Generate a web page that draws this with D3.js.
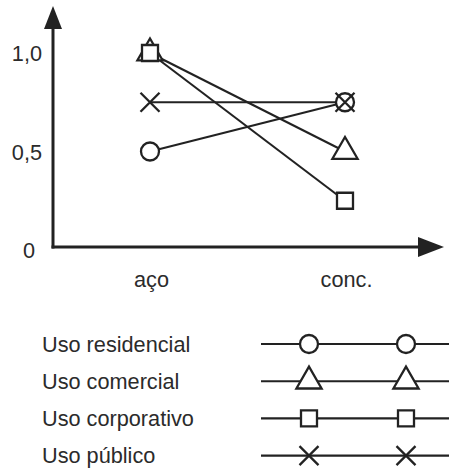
<!DOCTYPE html>
<html><head><meta charset="utf-8">
<script src="https://cdn.jsdelivr.net/npm/d3@7"></script>
<style>html,body{margin:0;padding:0;background:#fff}svg{display:block}text{font-family:"Liberation Sans",Arial,sans-serif;fill:#2b2b2b}</style>
</head><body><svg id="c" width="449" height="471"></svg>
<script>
const categories = ["aço", "conc."];
const seriesNames = ["Uso residencial", "Uso comercial", "Uso corporativo", "Uso público"];
const seriesSymbols = ["circle", "triangle", "square", "times"];
const residencial = [0.5, 0.75];
const comercial = [1.0, 0.5];
const corporativo = [1.0, 0.25];
const publico = [0.75, 0.75];
const yTicks = [0, 0.5, 1.0];
const yTickLabels = ["0", "0,5", "1,0"];

const seriesValues = [residencial, comercial, corporativo, publico];
const ink = "#222";
const txt = "#2b2b2b";
const fs = 21.7;
const svg = d3.select("#c");
const x = d3.scalePoint().domain(categories).range([150, 345]);
const y = d3.scaleLinear().domain([0, 1]).range([250, 53]);

function symPath(kind) {
  if (kind === "circle") return d3.symbol(d3.symbolCircle, Math.PI * 81)();
  if (kind === "triangle") return d3.symbol(d3.symbolTriangle, 275)();
  if (kind === "square") return d3.symbol(d3.symbolSquare, 256)();
  return "M-9.5,-9.5L9.5,9.5M-9.5,9.5L9.5,-9.5";
}
function drawMarker(g, kind, cx, cy) {
  g.append("path").attr("d", symPath(kind))
    .attr("transform", `translate(${cx},${cy})`)
    .attr("fill", kind === "times" ? "none" : "#fff")
    .attr("stroke", ink).attr("stroke-width", 2.3);
}

// axes
const axY = 53, axX = 247;
svg.append("line").attr("x1", axY).attr("x2", axY).attr("y1", 24).attr("y2", axX + 1.5)
  .attr("stroke", ink).attr("stroke-width", 3);
svg.append("line").attr("x1", axY - 1.5).attr("x2", 422).attr("y1", axX).attr("y2", axX)
  .attr("stroke", ink).attr("stroke-width", 3);
svg.append("path").attr("d", `M${axY},6L${axY - 9},29L${axY + 9},29Z`).attr("fill", ink);
svg.append("path").attr("d", `M444,${axX}L418,${axX - 10}L418,${axX + 10}Z`).attr("fill", ink);

// y tick labels
const yAxis = d3.axisLeft(y).tickValues(yTicks).tickSize(0).tickPadding(0)
  .tickFormat((d, i) => yTickLabels[i]);
const gy = svg.append("g").attr("transform", "translate(42,0)").call(yAxis);
gy.select(".domain").remove();
gy.selectAll("text").attr("font-size", fs).attr("fill", txt)
  .attr("font-family", '"Liberation Sans",Arial,sans-serif')
  .attr("dy", "0.35em")
  .attr("dx", d => d === 0 ? -7 : 0);

// x labels
const xAxis = d3.axisBottom(x).tickSize(0).tickPadding(0);
const gx = svg.append("g").attr("transform", "translate(1,272)").call(xAxis);
gx.select(".domain").remove();
gx.selectAll("text").attr("font-size", fs).attr("fill", txt)
  .attr("font-family", '"Liberation Sans",Arial,sans-serif');

// series lines
const line = d3.line().x((d, i) => x(categories[i])).y(d => y(d));
seriesValues.forEach(vals => {
  svg.append("path").attr("d", line(vals)).attr("fill", "none")
    .attr("stroke", ink).attr("stroke-width", 2.1);
});
// markers
const gm = svg.append("g");
seriesValues.forEach((vals, s) => {
  vals.forEach((v, i) => drawMarker(gm, seriesSymbols[s], x(categories[i]), y(v)));
});

// legend
const lg = svg.append("g");
seriesNames.forEach((name, i) => {
  const ly = 344 + i * 37.2;
  lg.append("text").attr("x", 42).attr("y", ly + 7.5).attr("font-size", fs).attr("fill", txt).text(name);
  lg.append("line").attr("x1", 261).attr("x2", 449).attr("y1", ly).attr("y2", ly)
    .attr("stroke", ink).attr("stroke-width", 2.1);
  drawMarker(lg, seriesSymbols[i], 309, ly);
  drawMarker(lg, seriesSymbols[i], 406, ly);
});
</script></body></html>
